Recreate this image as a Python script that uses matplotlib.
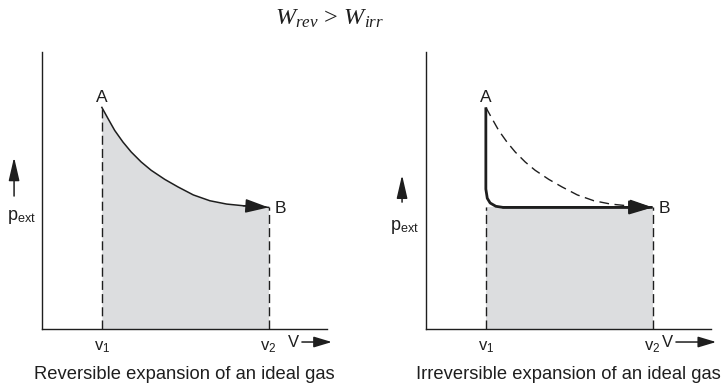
import matplotlib.pyplot as plt

plt.rcParams['font.family'] = ['Liberation Sans', 'DejaVu Sans']
plt.rcParams['mathtext.fontset'] = 'custom'
plt.rcParams['mathtext.rm'] = 'Liberation Serif'
plt.rcParams['mathtext.it'] = 'Liberation Serif:italic'
plt.rcParams['mathtext.sf'] = 'Liberation Sans'

INK = '#1e1e1e'
SHADE = '#dcdddf'

# volumes / pressures in arbitrary units
v1, v2 = 2.1, 7.95
p_a, p_b = 8.0, 4.39

# isotherm from A to B
iso_v = [2.1, 2.32, 2.55, 2.84, 3.13, 3.48, 3.83, 4.31, 4.77, 5.31, 5.89, 6.48,
         7.06, 7.65, 7.95]
iso_p = [8.0, 7.59, 7.17, 6.75, 6.39, 6.03, 5.73, 5.40, 5.13, 4.84, 4.63, 4.51,
         4.45, 4.42, 4.39]

# irreversible path: sudden drop of p_ext, then expansion against constant p_ext
irr_v = [2.1, 2.1, 2.15, 2.25, 2.45, 2.7, 7.95]
irr_p = [8.0, 5.05, 4.72, 4.55, 4.43, 4.39, 4.39]

captions = ['Reversible expansion of an ideal gas',
            'Irreversible expansion of an ideal gas']

fig = plt.figure(figsize=(7.27, 3.84), dpi=100)
ax_rev = fig.add_axes([42 / 727, 55 / 384, 285 / 727, 277 / 384])
ax_irr = fig.add_axes([426 / 727, 55 / 384, 285 / 727, 277 / 384])

dash = (0, (6.5, 3))
head = '-|>,head_length=1.1,head_width=0.33'


def frame(ax):
    ax.set_xlim(0, 10)
    ax.set_ylim(0, 10)
    ax.set_xticks([])
    ax.set_yticks([])
    for side in ['top', 'right']:
        ax.spines[side].set_visible(False)
    for side in ['left', 'bottom']:
        ax.spines[side].set_linewidth(1.0)
        ax.spines[side].set_color(INK)


def labels(ax, caption, p_arrow, p_text, v_arrow):
    ax.text(v1, p_a + 0.2, 'A', ha='center', va='baseline', fontsize=12.5, color=INK)
    ax.text(v2 + 0.2, p_b - 0.2, 'B', ha='left', va='baseline', fontsize=12.5, color=INK)
    ax.text(v1, -0.65, r'$\mathsf{v}_{\mathsf{1}}$', ha='center', va='center',
            fontsize=12, color=INK)
    ax.text(v2, -0.65, r'$\mathsf{v}_{\mathsf{2}}$', ha='center', va='center',
            fontsize=12, color=INK)
    # V axis arrow
    ax.text(v_arrow[0] - 0.01, -0.047, 'V', transform=ax.transAxes, ha='right',
            va='center', fontsize=12, color=INK)
    ax.annotate('', xy=(v_arrow[1], -0.047), xytext=(v_arrow[0], -0.047),
                xycoords='axes fraction', textcoords='axes fraction',
                arrowprops=dict(arrowstyle='-|>,head_length=1.0,head_width=0.3',
                                mutation_scale=11, lw=1.1, color=INK,
                                shrinkA=0, shrinkB=0), annotation_clip=False)
    # p_ext axis arrow
    ax.annotate('', xy=(p_arrow[0], p_arrow[2]), xytext=(p_arrow[0], p_arrow[1]),
                xycoords='axes fraction', textcoords='axes fraction',
                arrowprops=dict(arrowstyle='-|>,head_length=1.3,head_width=0.3',
                                mutation_scale=11, lw=1.1, color=INK,
                                shrinkA=0, shrinkB=0), annotation_clip=False)
    ax.text(p_text[0], p_text[1], r'$\mathsf{p}_{\mathsf{ext}}$', transform=ax.transAxes,
            ha='center', va='center', fontsize=13, color=INK)
    ax.text(0.5, -0.166, caption, transform=ax.transAxes, ha='center', va='center',
            fontsize=13.2, color=INK)


# reversible panel
frame(ax_rev)
ax_rev.fill_between(iso_v, 0, iso_p, color=SHADE, lw=0)
ax_rev.plot([v1, v1], [0, p_a], color=INK, lw=1.0, ls=dash)
ax_rev.plot([v2, v2], [0, p_b], color=INK, lw=1.0, ls=dash)
ax_rev.plot(iso_v, iso_p, color=INK, lw=1.1)
ax_rev.annotate('', xy=(iso_v[-1], iso_p[-1]), xytext=(iso_v[-3], iso_p[-3]),
                arrowprops=dict(arrowstyle=head, mutation_scale=13, lw=1.1, color=INK,
                                shrinkA=0, shrinkB=0))
labels(ax_rev, captions[0], (-0.098, 0.48, 0.62), (-0.072, 0.404), (0.912, 1.017))

# irreversible panel
frame(ax_irr)
ax_irr.fill_between([v1, v2], 0, [p_b, p_b], color=SHADE, lw=0)
ax_irr.plot([v1, v1], [0, p_b], color=INK, lw=1.0, ls=dash)
ax_irr.plot([v2, v2], [0, p_b], color=INK, lw=1.0, ls=dash)
ax_irr.plot(iso_v, iso_p, color=INK, lw=1.0, ls=(0, (7, 4)))
ax_irr.annotate('', xy=(iso_v[-1], iso_p[-1]), xytext=(iso_v[-1] - 0.65, iso_p[-2]),
                arrowprops=dict(arrowstyle=head, mutation_scale=13, lw=1.0, color=INK,
                                shrinkA=0, shrinkB=0))
ax_irr.plot(irr_v, irr_p, color=INK, lw=2.0, solid_joinstyle='round',
            solid_capstyle='butt')
ax_irr.annotate('', xy=(irr_v[-1], irr_p[-1]), xytext=(irr_v[-2], irr_p[-2]),
                arrowprops=dict(arrowstyle=head, mutation_scale=13, lw=1.5, color=INK,
                                shrinkA=0, shrinkB=0))
labels(ax_irr, captions[1], (-0.084, 0.458, 0.556), (-0.077, 0.368), (0.877, 1.018))

fig.text(330 / 727, 1 - 25 / 384, r'$W_{rev}\,>\,W_{irr}$', ha='center', va='baseline',
         fontsize=17.5, color=INK)

fig.savefig('out.png', dpi=100)
